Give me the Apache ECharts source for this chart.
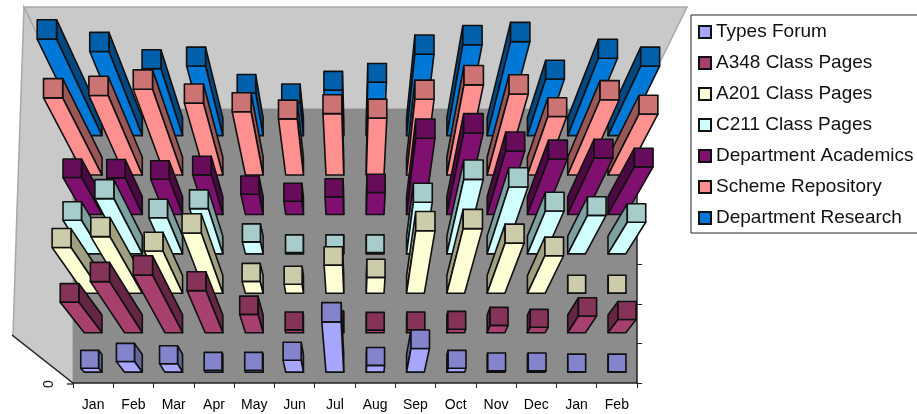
<!DOCTYPE html>
<html><head><meta charset="utf-8">
<style>html,body{margin:0;padding:0;background:#fff;overflow:hidden}#c{width:917px;height:414px}</style>
<script src="https://cdn.jsdelivr.net/npm/echarts@6/dist/echarts.min.js"></script>
</head><body><div id="c"></div>
<script>
const months = ['Jan','Feb','Mar','Apr','May','Jun','Jul','Aug','Sep','Oct','Nov','Dec','Jan','Feb'];
const seriesNames = ['Types Forum','A348 Class Pages','A201 Class Pages','C211 Class Pages','Department Academics','Scheme Repository','Department Research'];
const typesForum = [14,38,30,7,7,42,178,24,84,14,5,5,1,1];
const a348 = [95,159,179,131,57,9,12,8,9,11,23,17,52,41];
const a201 = [127,157,117,167,33,25,78,44,173,179,139,104,1,1];
const c211 = [84,138,90,113,30,3,3,3,129,186,167,107,96,79];
const academics = [84,83,80,90,46,30,40,50,173,185,144,126,128,108];
const scheme = [161,166,179,150,132,117,128,119,158,188,169,122,157,127];
const research = [186,162,129,134,82,64,88,103,157,175,181,109,149,134];
const allValues = [typesForum,a348,a201,c211,academics,scheme,research];
const valueTicks = ['0'];

const frontColors = ['#A6A6FF','#A8406F','#FFFFD6','#D0FFFF','#801070','#FF9090','#0078D8'];
const topColors   = ['#8484CC','#86335A','#CCCCAA','#A6CCCC','#660C5A','#CC7373','#0060AC'];
const sideColors  = ['#64649A','#652643','#A0A080','#7DA0A0','#4C0843','#995656','#004881'];

const VX = 355, VY = 650, STROKE = '#101010';
function lift(p, s){ return [VX + (p[0]-VX)*(1+(s-1)*0.95), VY + (p[1]-VY)*s]; }

function makeRender(row){
  return function(params, api){
    const col = api.value(0), v = api.value(2);
    const c = api.coord([col, api.value(1)]);
    const band = api.size([1,1]);
    const hx = band[0]*0.22, hy = band[1]*0.225;
    const s = 1 + v/1000, grow = 1 + v/2000;
    const tc = lift(c, s);
    const thx = hx*grow, thy = hy*grow;
    const bl=[c[0]-hx,c[1]+hy], br=[c[0]+hx,c[1]+hy], tl=[c[0]-hx,c[1]-hy], tr=[c[0]+hx,c[1]-hy];
    const Bl=[tc[0]-thx,tc[1]+thy], Br=[tc[0]+thx,tc[1]+thy], Tl=[tc[0]-thx,tc[1]-thy], Tr=[tc[0]+thx,tc[1]-thy];
    const face = (pts, fill) => ({type:'polygon', shape:{points:pts}, style:{fill, stroke:STROKE, lineWidth:1.6, lineJoin:'round'}});
    const kids = [];
    if (c[0]+hx < VX) kids.push(face([br,tr,Tr,Br], sideColors[row]));
    if (c[0]-hx > VX) kids.push(face([bl,tl,Tl,Bl], sideColors[row]));
    kids.push(face([bl,br,Br,Bl], frontColors[row]));
    kids.push(face([Tl,Tr,Br,Bl], topColors[row]));
    return {type:'group', children:kids};
  };
}

// painter's order: far rows first, outer columns before inner ones
const colOrder = months.map((m,i)=>i).sort((a,b)=>Math.abs(b-6.5)-Math.abs(a-6.5));
const series = seriesNames.map((name,row)=>({
  type:'custom', name, z:5, coordinateSystem:'cartesian2d', silent:true, animation:false,
  itemStyle:{color:frontColors[row], borderColor:'#111', borderWidth:1.4},
  encode:{x:0,y:1},
  renderItem:makeRender(row),
  data:colOrder.map(i=>[i,row,allValues[row][i]])
})).reverse();

const wallStyle = {fill:'#C9C9C9', stroke:'#A8A8A8', lineWidth:1.5};
const chart = echarts.init(document.getElementById('c'), null, {renderer:'canvas'});
chart.setOption({
  animation:false,
  backgroundColor:'#fff',
  textStyle:{fontFamily:'"Liberation Sans",Arial,sans-serif'},
  grid:{left:73,right:280,top:107,bottom:31,containLabel:false},
  xAxis:{type:'category',data:months,boundaryGap:true,z:3,
    axisLine:{onZero:false,lineStyle:{color:'#222',width:1.5}},
    axisTick:{show:true,alignWithLabel:false,interval:0,length:5,lineStyle:{color:'#222'}},
    axisLabel:{interval:0,color:'#000',fontSize:14,margin:15},splitLine:{show:false}},
  yAxis:{type:'category',data:seriesNames,position:'right',z:3,boundaryGap:true,
    axisLine:{onZero:false,lineStyle:{color:'#222',width:1.5}},
    axisTick:{show:true,interval:0,length:5,lineStyle:{color:'#222'}},
    axisLabel:{show:false},splitLine:{show:false}},
  legend:{orient:'vertical',left:691,top:15,
    data:seriesNames,
    itemWidth:12,itemHeight:12,itemGap:11,
    padding:[7,5,5,7],
    backgroundColor:'#fff',borderColor:'#222',borderWidth:1,borderRadius:0,
    icon:'rect',selectedMode:false,
    textStyle:{color:'#111',fontSize:19,fontFamily:'"Liberation Sans",Arial,sans-serif',lineHeight:20}},
  graphic:[
    {type:'polygon',z:0,shape:{points:[[24,7],[687,7],[637,109],[73,109]]},style:wallStyle},
    {type:'polygon',z:0,shape:{points:[[24,7],[73,109],[73,383],[13,336],[17,210]]},style:wallStyle},
    {type:'rect',z:1,shape:{x:73,y:109,width:564,height:274},style:{fill:'#8C8C8C'}},
    {type:'line',z:2,shape:{x1:12,y1:335,x2:73,y2:383},style:{stroke:'#222',lineWidth:1.3}},
    {type:'line',z:2,shape:{x1:67,y1:384,x2:73,y2:384},style:{stroke:'#222',lineWidth:1.3}},
    {type:'text',z:2,x:49,y:384,rotation:Math.PI/2,style:{text:valueTicks[0],fill:'#111',fontSize:14,align:'center',verticalAlign:'middle',fontFamily:'"Liberation Sans",Arial,sans-serif'}}
  ],
  series
});
</script></body></html>
